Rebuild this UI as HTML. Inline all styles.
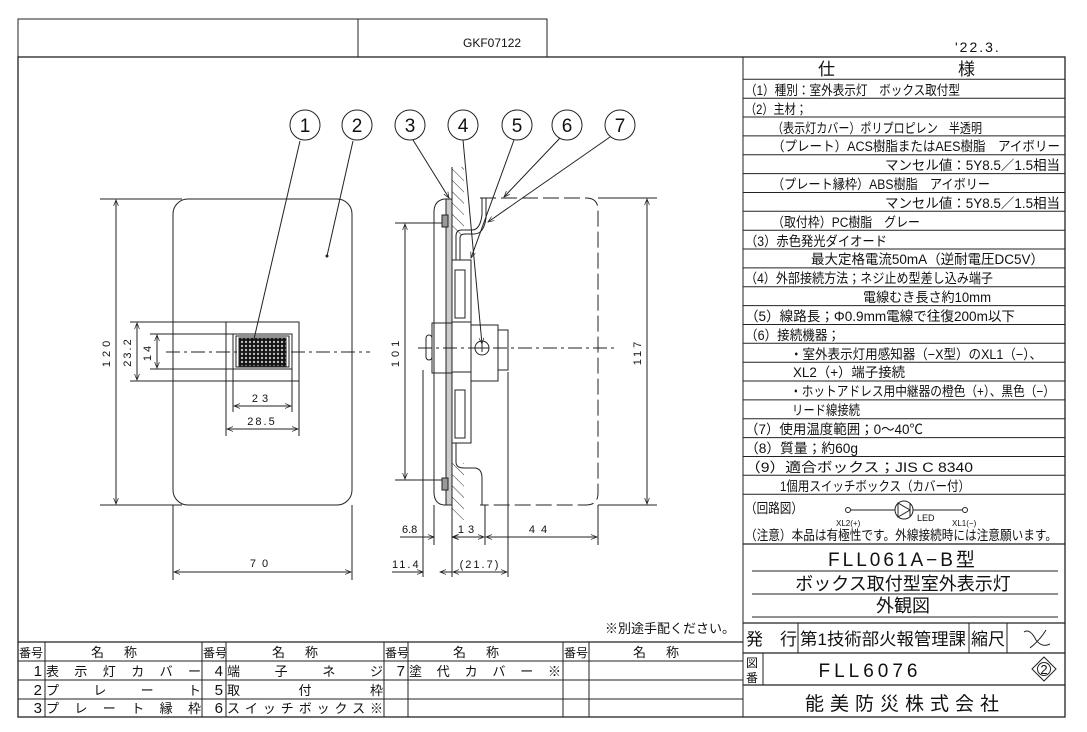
<!DOCTYPE html>
<html><head><meta charset="utf-8"><style>
html,body{margin:0;padding:0;background:#fff}
svg{display:block}
text{font-family:"Liberation Sans","Noto Sans CJK JP",sans-serif;fill:#111}
.s{font-size:13.5px}
.d{font-family:"Liberation Sans",sans-serif;font-size:11px}
</style></head><body>
<svg width="1087" height="732" viewBox="0 0 1087 732" xmlns="http://www.w3.org/2000/svg">
<defs>
<marker id="a" viewBox="0 0 10 10" refX="10" refY="5" markerWidth="8" markerHeight="6" orient="auto-start-reverse"><path d="M0,1 L10,5 L0,9" fill="none" stroke="#222" stroke-width="1.2"/></marker>
<pattern id="h" width="8" height="8" patternUnits="userSpaceOnUse" patternTransform="rotate(-45)"><line x1="0" y1="0" x2="0" y2="8" stroke="#333" stroke-width="1"/></pattern>
<pattern id="g" width="4" height="4" patternUnits="userSpaceOnUse"><rect width="4" height="4" fill="#111"/><circle cx="2" cy="2" r="1.2" fill="#bbb"/></pattern>
</defs>
<g stroke="#222" fill="none" stroke-width="1">
<rect x="18" y="19" width="529" height="38"/>
<line x1="358" y1="19" x2="358" y2="57"/>
<rect x="18" y="57" width="1047" height="660" stroke-width="1.3"/>
<line x1="743" y1="57" x2="743" y2="717"/>
</g>
<text x="463" y="47" style="font-size:12px;font-family:'Liberation Sans',sans-serif">GKF07122</text>
<text x="955" y="52" style="font-size:14px;letter-spacing:2px">'22.3.</text>

<g stroke="#222" stroke-width="1">
<line x1="743" y1="79.3" x2="1065" y2="79.3"/>
<line x1="743" y1="98.2" x2="1065" y2="98.2"/><line x1="743" y1="117" x2="1065" y2="117"/>
<line x1="743" y1="135.9" x2="1065" y2="135.9"/><line x1="743" y1="154.7" x2="1065" y2="154.7"/>
<line x1="743" y1="173.6" x2="1065" y2="173.6"/><line x1="743" y1="192.5" x2="1065" y2="192.5"/>
<line x1="743" y1="211.3" x2="1065" y2="211.3"/><line x1="743" y1="230.2" x2="1065" y2="230.2"/>
<line x1="743" y1="249" x2="1065" y2="249"/><line x1="743" y1="267.9" x2="1065" y2="267.9"/>
<line x1="743" y1="286.8" x2="1065" y2="286.8"/><line x1="743" y1="305.6" x2="1065" y2="305.6"/>
<line x1="743" y1="324.5" x2="1065" y2="324.5"/><line x1="743" y1="343.3" x2="1065" y2="343.3"/>
<line x1="743" y1="362.2" x2="1065" y2="362.2"/><line x1="743" y1="381" x2="1065" y2="381"/>
<line x1="743" y1="399.9" x2="1065" y2="399.9"/><line x1="743" y1="418.8" x2="1065" y2="418.8"/>
<line x1="743" y1="437.6" x2="1065" y2="437.6"/><line x1="743" y1="456.5" x2="1065" y2="456.5"/>
<line x1="743" y1="475.3" x2="1065" y2="475.3"/><line x1="743" y1="494.2" x2="1065" y2="494.2"/>
<line x1="743" y1="544" x2="1065" y2="544" stroke-width="1.3"/>
<line x1="752" y1="571" x2="1058" y2="571"/><line x1="752" y1="594" x2="1058" y2="594"/><line x1="752" y1="617" x2="1058" y2="617"/>
<line x1="743" y1="623" x2="1065" y2="623" stroke-width="1.3"/>
<line x1="743" y1="653" x2="1065" y2="653" stroke-width="1.3"/>
<line x1="743" y1="685" x2="1065" y2="685" stroke-width="1.3"/>
<line x1="798" y1="623" x2="798" y2="653"/><line x1="969" y1="623" x2="969" y2="653"/><line x1="1007" y1="623" x2="1007" y2="653"/>
<line x1="763" y1="653" x2="763" y2="685"/>
</g>
<text x="818" y="75" style="font-size:17px">仕</text><text x="958" y="75" style="font-size:17px">様</text>
<g class="s">
<text x="745" y="95" textLength="215" lengthAdjust="spacingAndGlyphs">（1）種別：室外表示灯　ボックス取付型</text>
<text x="745" y="114" textLength="62" lengthAdjust="spacingAndGlyphs">（2）主材；</text>
<text x="772" y="133" textLength="210" lengthAdjust="spacingAndGlyphs">（表示灯カバー）ポリプロピレン　半透明</text>
<text x="772" y="151" textLength="288" lengthAdjust="spacingAndGlyphs">（プレート）ACS樹脂またはAES樹脂　アイボリー</text>
<text x="885" y="170" textLength="175" lengthAdjust="spacingAndGlyphs">マンセル値：5Y8.5／1.5相当</text>
<text x="772" y="189" textLength="218" lengthAdjust="spacingAndGlyphs">（プレート縁枠）ABS樹脂　アイボリー</text>
<text x="885" y="208" textLength="175" lengthAdjust="spacingAndGlyphs">マンセル値：5Y8.5／1.5相当</text>
<text x="772" y="227" textLength="148" lengthAdjust="spacingAndGlyphs">（取付枠）PC樹脂　グレー</text>
<text x="745" y="246" textLength="142" lengthAdjust="spacingAndGlyphs">（3）赤色発光ダイオード</text>
<text x="811" y="264" textLength="233" lengthAdjust="spacingAndGlyphs">最大定格電流50mA（逆耐電圧DC5V）</text>
<text x="745" y="283" textLength="248" lengthAdjust="spacingAndGlyphs">（4）外部接続方法；ネジ止め型差し込み端子</text>
<text x="863" y="302" textLength="128" lengthAdjust="spacingAndGlyphs">電線むき長さ約10mm</text>
<text x="745" y="321" textLength="270" lengthAdjust="spacingAndGlyphs">（5）線路長；Φ0.9mm電線で往復200m以下</text>
<text x="745" y="340" textLength="95" lengthAdjust="spacingAndGlyphs">（6）接続機器；</text>
<text x="790" y="359" textLength="252" lengthAdjust="spacingAndGlyphs">・室外表示灯用感知器（−X型）のXL1（−）、</text>
<text x="793" y="377" textLength="112" lengthAdjust="spacingAndGlyphs">XL2（+）端子接続</text>
<text x="790" y="396" textLength="265" lengthAdjust="spacingAndGlyphs">・ホットアドレス用中継器の橙色（+）、黒色（−）</text>
<text x="792" y="415" textLength="68" lengthAdjust="spacingAndGlyphs">リード線接続</text>
<text x="745" y="434" textLength="178" lengthAdjust="spacingAndGlyphs">（7）使用温度範囲；0〜40℃</text>
<text x="745" y="453" textLength="113" lengthAdjust="spacingAndGlyphs">（8）質量；約60g</text>
<text x="745" y="472" textLength="228" lengthAdjust="spacingAndGlyphs">（9）適合ボックス；JIS C 8340</text>
<text x="780" y="491" textLength="190" lengthAdjust="spacingAndGlyphs">1個用スイッチボックス（カバー付）</text>
<text x="745" y="513" textLength="58" lengthAdjust="spacingAndGlyphs">（回路図）</text>
<text x="745" y="540" textLength="312" lengthAdjust="spacingAndGlyphs">（注意）本品は有極性です。外線接続時には注意願います。</text>
</g>
<g stroke="#222" fill="none">
<circle cx="848" cy="510" r="2.5"/><line x1="851" y1="510" x2="895" y2="510"/>
<circle cx="904" cy="510" r="9"/><path d="M898,503 L898,517 L910,510 Z M910,503 L910,517"/>
<line x1="913" y1="510" x2="962" y2="510"/><circle cx="965" cy="510" r="2.5"/>
</g>
<text x="917" y="521" style="font-size:9px">LED</text>
<text x="836" y="526" style="font-size:8px">XL2(+)</text>
<text x="952" y="526" style="font-size:8px">XL1(−)</text>

<text x="903" y="566" text-anchor="middle" style="font-size:19px;letter-spacing:3px">FLL061A−B型</text>
<text x="903" y="590" text-anchor="middle" style="font-size:18px">ボックス取付型室外表示灯</text>
<text x="903" y="612" text-anchor="middle" style="font-size:18px">外観図</text>
<text x="746" y="645" style="font-size:17px">発　行</text>
<text x="800" y="645" style="font-size:17px" textLength="166" lengthAdjust="spacingAndGlyphs">第1技術部火報管理課</text>
<text x="971" y="645" style="font-size:17px">縮尺</text>
<path d="M1024,632 Q1030,628 1036,640 Q1042,648 1050,644 M1030,648 Q1040,640 1046,630" stroke="#222" fill="none"/>
<text x="746" y="667" style="font-size:12px">図</text><text x="746" y="682" style="font-size:12px">番</text>
<text x="870" y="677" text-anchor="middle" style="font-size:19px;letter-spacing:4px">FLL6076</text>
<path d="M1044,657 L1056,669 L1044,681 L1032,669 Z" stroke="#222" fill="none"/>
<text x="1044" y="674" text-anchor="middle" style="font-size:13px">2</text><circle cx="1044" cy="669" r="6.5" stroke="#222" fill="none"/>
<text x="905" y="710" text-anchor="middle" style="font-size:19px;letter-spacing:6px">能美防災株式会社</text>

<text x="735" y="633" text-anchor="end" style="font-size:13px">※別途手配ください。</text>
<g stroke="#222" stroke-width="1">
<line x1="18" y1="642" x2="743" y2="642" stroke-width="1.3"/>
<line x1="18" y1="661" x2="743" y2="661"/><line x1="18" y1="680" x2="743" y2="680"/><line x1="18" y1="699" x2="743" y2="699"/>
<line x1="45" y1="642" x2="45" y2="717"/><line x1="202" y1="642" x2="202" y2="717"/><line x1="226" y1="642" x2="226" y2="717"/>
<line x1="384" y1="642" x2="384" y2="717"/><line x1="408" y1="642" x2="408" y2="717"/><line x1="563" y1="642" x2="563" y2="717"/><line x1="589" y1="642" x2="589" y2="717"/>
</g>
<g style="font-size:13px">
<text x="19" y="657" style="font-size:12px">番号</text><text x="124" y="657" text-anchor="middle" style="letter-spacing:20px">名称</text>
<text x="203" y="657" style="font-size:12px">番号</text><text x="305" y="657" text-anchor="middle" style="letter-spacing:20px">名称</text>
<text x="385" y="657" style="font-size:12px">番号</text><text x="486" y="657" text-anchor="middle" style="letter-spacing:20px">名称</text>
<text x="564" y="657" style="font-size:12px">番号</text><text x="666" y="657" text-anchor="middle" style="letter-spacing:20px">名称</text>
<text x="42" y="676" text-anchor="end" style="font-size:15px">1</text><text x="46" y="676" textLength="155" lengthAdjust="spacing">表示灯カバー</text>
<text x="42" y="695" text-anchor="end" style="font-size:15px">2</text><text x="46" y="695" textLength="155" lengthAdjust="spacing">プレート</text>
<text x="42" y="713" text-anchor="end" style="font-size:15px">3</text><text x="46" y="713" textLength="155" lengthAdjust="spacing">プレート縁枠</text>
<text x="223" y="676" text-anchor="end" style="font-size:15px">4</text><text x="227" y="676" textLength="156" lengthAdjust="spacing">端子ネジ</text>
<text x="223" y="695" text-anchor="end" style="font-size:15px">5</text><text x="227" y="695" textLength="156" lengthAdjust="spacing">取付枠</text>
<text x="223" y="713" text-anchor="end" style="font-size:15px">6</text><text x="227" y="713" textLength="156" lengthAdjust="spacing">スイッチボックス※</text>
<text x="405" y="676" text-anchor="end" style="font-size:15px">7</text><text x="409" y="676" textLength="152" lengthAdjust="spacing">塗代カバー※</text>
</g>

<g stroke="#222" fill="none" stroke-width="1">
<rect x="173" y="199" width="179" height="306" rx="15"/>
<rect x="226" y="322" width="73" height="59"/>
<rect x="233" y="334" width="59" height="35"/>
<rect x="236" y="336" width="53" height="31"/>
<rect x="239" y="338" width="47" height="28" fill="url(#g)"/>
<line x1="166" y1="352" x2="370" y2="352" stroke-dasharray="14,4,3,4"/>
<line x1="100" y1="199" x2="182" y2="199"/><line x1="100" y1="505" x2="182" y2="505"/>
<line x1="116" y1="200" x2="116" y2="504" marker-start="url(#a)" marker-end="url(#a)"/>
<line x1="130" y1="322" x2="226" y2="322"/><line x1="130" y1="381" x2="226" y2="381"/>
<line x1="137" y1="323" x2="137" y2="380" marker-start="url(#a)" marker-end="url(#a)"/>
<line x1="150" y1="334" x2="233" y2="334"/><line x1="150" y1="369" x2="233" y2="369"/>
<line x1="157" y1="335" x2="157" y2="368" marker-start="url(#a)" marker-end="url(#a)"/>
<line x1="233" y1="369" x2="233" y2="412"/><line x1="292" y1="369" x2="292" y2="412"/>
<line x1="234" y1="406" x2="291" y2="406" marker-start="url(#a)" marker-end="url(#a)"/>
<line x1="226" y1="381" x2="226" y2="436"/><line x1="299" y1="381" x2="299" y2="436"/>
<line x1="227" y1="429" x2="298" y2="429" marker-start="url(#a)" marker-end="url(#a)"/>
<line x1="173" y1="505" x2="173" y2="580"/><line x1="352" y1="505" x2="352" y2="580"/>
<line x1="174" y1="572" x2="351" y2="572" marker-start="url(#a)" marker-end="url(#a)"/>
<circle cx="305" cy="125" r="15"/><circle cx="357" cy="125" r="15"/>
<line x1="300" y1="141" x2="254" y2="339"/>
<line x1="353" y1="141" x2="327" y2="256"/>
</g>
<circle cx="327" cy="256" r="1.5" fill="#222"/>
<text x="305" y="132" text-anchor="middle" style="font-size:19px">1</text>
<text x="357" y="132" text-anchor="middle" style="font-size:19px">2</text>
<text class="d" transform="translate(110,352) rotate(-90)" text-anchor="middle" style="letter-spacing:4px">120</text>
<text class="d" transform="translate(131,352) rotate(-90)" text-anchor="middle" style="letter-spacing:2px">23.2</text>
<text class="d" transform="translate(151,352) rotate(-90)" text-anchor="middle" style="letter-spacing:3px">14</text>
<text class="d" x="262" y="402" text-anchor="middle" style="letter-spacing:4px">23</text>
<text class="d" x="262" y="425" text-anchor="middle" style="letter-spacing:2px">28.5</text>
<text class="d" x="262" y="567" text-anchor="middle" style="letter-spacing:6px">70</text>

<g stroke="#222" fill="none" stroke-width="1">
<rect x="452" y="167" width="12" height="68" fill="url(#h)" stroke="none"/>
<rect x="452" y="463" width="12" height="57" fill="url(#h)" stroke="none"/>
<line x1="452" y1="167" x2="452" y2="520"/>
<path d="M452,199 L444,199 Q434,201 434,212 L434,492 Q434,504 444,505 L452,505"/>
<rect x="446" y="199" width="6" height="306" fill="#ccc"/>
<rect x="442" y="215" width="6" height="12" fill="#999"/><rect x="442" y="478" width="6" height="12" fill="#999"/>
<rect x="452" y="260" width="19" height="183"/>
<rect x="455" y="270" width="10" height="48"/><rect x="455" y="390" width="10" height="48"/>
<rect x="432" y="323" width="20" height="50"/>
<rect x="426" y="335" width="6" height="25" rx="3"/>
<rect x="452" y="322" width="19" height="50"/>
<rect x="471" y="325" width="27" height="56"/>
<rect x="498" y="330" width="10" height="40"/>
<circle cx="482" cy="348" r="7"/><path d="M478,348 h8 M482,344 v8"/>
<line x1="418" y1="348" x2="615" y2="348" stroke-dasharray="14,4,3,4"/>
<path d="M456,260 L456,236 Q456,230 462,230 L472,230 Q480,230 482,215 L482,198"/>
<path d="M460,260 L460,238 Q460,234 465,234 L474,234 Q484,234 486,218 L486,198"/>
<path d="M456,443 L456,462 Q456,468 464,468 L474,468 Q482,468 482,478 L482,505"/>
<path d="M480,198 L586,198 Q598,198 598,210 L598,493 Q598,505 586,505 L480,505" stroke-dasharray="16,5"/>
<line x1="395" y1="223" x2="442" y2="223"/><line x1="395" y1="480" x2="442" y2="480"/>
<line x1="405" y1="224" x2="405" y2="479" marker-start="url(#a)" marker-end="url(#a)"/>
<line x1="598" y1="198" x2="657" y2="198"/><line x1="598" y1="505" x2="657" y2="505"/>
<line x1="647" y1="199" x2="647" y2="504" marker-start="url(#a)" marker-end="url(#a)"/>
<line x1="423" y1="370" x2="423" y2="577"/><line x1="434" y1="505" x2="434" y2="545"/>
<line x1="452" y1="520" x2="452" y2="577"/><line x1="485" y1="505" x2="485" y2="545"/>
<line x1="508" y1="372" x2="508" y2="577"/><line x1="598" y1="505" x2="598" y2="545"/>
<line x1="400" y1="537" x2="434" y2="537" marker-end="url(#a)"/><line x1="470" y1="537" x2="452" y2="537" marker-end="url(#a)"/>
<line x1="453" y1="537" x2="484" y2="537" marker-start="url(#a)" marker-end="url(#a)"/>
<line x1="486" y1="537" x2="597" y2="537" marker-start="url(#a)" marker-end="url(#a)"/>
<line x1="392" y1="572" x2="423" y2="572" marker-end="url(#a)"/><line x1="440" y1="572" x2="452" y2="572" marker-start="url(#a)"/>
<line x1="453" y1="572" x2="507" y2="572" marker-start="url(#a)" marker-end="url(#a)"/>
<circle cx="410" cy="125" r="15"/><circle cx="463" cy="125" r="15"/><circle cx="517" cy="125" r="15"/><circle cx="567" cy="125" r="15"/><circle cx="620" cy="125" r="15"/>
<line x1="413" y1="140" x2="449" y2="198" marker-end="url(#a)"/>
<line x1="463" y1="140" x2="482" y2="344" marker-end="url(#a)"/>
<line x1="514" y1="140" x2="471" y2="258" marker-end="url(#a)"/>
<line x1="560" y1="138" x2="504" y2="197" marker-end="url(#a)"/>
<line x1="610" y1="137" x2="488" y2="222" marker-end="url(#a)"/>
</g>
<g style="font-size:19px" text-anchor="middle">
<text x="410" y="132">3</text><text x="463" y="132">4</text><text x="517" y="132">5</text><text x="567" y="132">6</text><text x="620" y="132">7</text>
</g>
<text class="d" transform="translate(399,352) rotate(-90)" text-anchor="middle" style="letter-spacing:4px">101</text>
<text class="d" transform="translate(641,352) rotate(-90)" text-anchor="middle" style="letter-spacing:3px">117</text>
<text class="d" x="402" y="533">6.8</text>
<text class="d" x="468" y="533" text-anchor="middle" style="letter-spacing:4px">13</text>
<text class="d" x="541" y="533" text-anchor="middle" style="letter-spacing:6px">44</text>
<text class="d" x="392" y="568" style="letter-spacing:2px">11.4</text>
<text class="d" x="480" y="568" text-anchor="middle" style="letter-spacing:2px">(21.7)</text>
</svg>
</body></html>
